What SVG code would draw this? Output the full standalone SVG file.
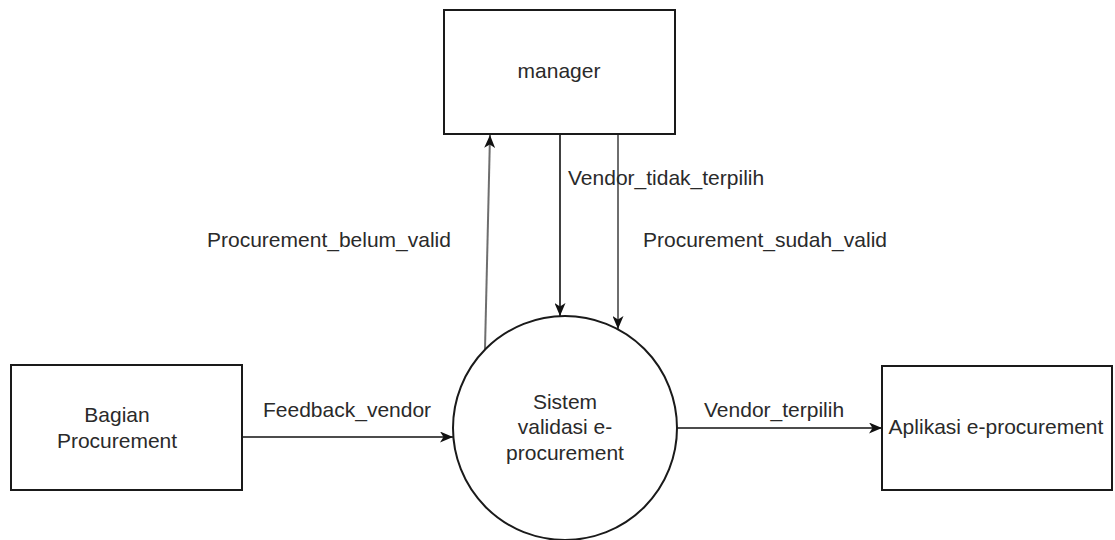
<svg xmlns="http://www.w3.org/2000/svg" width="1115" height="540" viewBox="0 0 1115 540">
  <defs>
    <style>
      .box { fill: #ffffff; stroke: #1a1a1a; stroke-width: 2; }
      .lbl { font-family: "Liberation Sans", Arial, sans-serif; font-size: 21px; fill: #2a2a2a; }
      .mid { text-anchor: middle; }
      .flow { fill: none; stroke: #111111; stroke-width: 1.6; }
      .flow-g { fill: none; stroke: #6e6e6e; stroke-width: 2; }
    </style>
    <marker id="arr" viewBox="0 0 13 11" refX="13" refY="5.5" markerWidth="13" markerHeight="11" markerUnits="userSpaceOnUse" orient="auto">
      <path d="M0,0 L13,5.5 L0,11 L3.5,5.5 Z" fill="#111111"/>
    </marker>
  </defs>
  <rect width="1115" height="540" fill="#ffffff"/>

  <g id="connectors">
    <line class="flow-g" x1="485" y1="349" x2="490" y2="135" marker-end="url(#arr)"/>
    <line class="flow" x1="560" y1="134" x2="560" y2="316" marker-end="url(#arr)"/>
    <line class="flow-g" x1="618" y1="134" x2="618" y2="329" marker-end="url(#arr)"/>
    <line class="flow" x1="242" y1="437" x2="453" y2="437" marker-end="url(#arr)"/>
    <line class="flow" x1="677" y1="428" x2="882" y2="428" marker-end="url(#arr)"/>
    <text class="lbl" x="207" y="247">Procurement_belum_valid</text>
    <text class="lbl" x="568" y="185">Vendor_tidak_terpilih</text>
    <text class="lbl" x="643" y="247">Procurement_sudah_valid</text>
    <text class="lbl" x="263" y="417">Feedback_vendor</text>
    <text class="lbl" x="704" y="417">Vendor_terpilih</text>
  </g>

  <g id="manager">
    <rect class="box" x="444" y="10" width="231" height="124"/>
    <text class="lbl mid" x="559" y="78">manager</text>
  </g>

  <g id="bagian-procurement">
    <rect class="box" x="11" y="365" width="231" height="125"/>
    <text class="lbl mid" x="117" y="422">Bagian</text>
    <text class="lbl mid" x="117" y="448">Procurement</text>
  </g>

  <g id="sistem-validasi">
    <circle class="box" cx="565" cy="428" r="112"/>
    <text class="lbl mid" x="565" y="409">Sistem</text>
    <text class="lbl mid" x="565" y="434">validasi e-</text>
    <text class="lbl mid" x="565" y="460">procurement</text>
  </g>

  <g id="aplikasi-e-procurement">
    <rect class="box" x="882" y="366" width="230" height="124"/>
    <text class="lbl mid" x="996" y="434">Aplikasi e-procurement</text>
  </g>
</svg>
